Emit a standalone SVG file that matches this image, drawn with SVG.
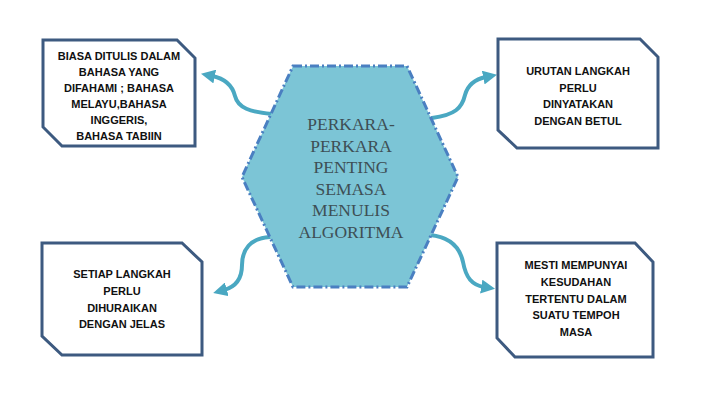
<svg xmlns="http://www.w3.org/2000/svg" width="720" height="405" viewBox="0 0 720 405">
<defs>
<style>
.box{fill:#ffffff;stroke:#3d5a80;stroke-width:3;stroke-linejoin:miter}
.bt{font-family:"Liberation Sans",Arial,sans-serif;font-size:11px;font-weight:bold;fill:#111111;text-anchor:middle}
.hex{fill:#7cc5d6;stroke:#4a7fc1;stroke-width:3;stroke-dasharray:9 3 2 3}
.ht{font-family:"Liberation Serif","Times New Roman",serif;font-size:17.5px;fill:#3e4f55;text-anchor:middle}
.con{fill:none;stroke:#4aa8c2;stroke-width:4;stroke-linecap:round}
</style>
<marker id="ah" viewBox="0 0 10 10" refX="2" refY="5" markerWidth="14" markerHeight="14" markerUnits="userSpaceOnUse" orient="auto">
<path d="M0,0 L10,5 L0,10 Z" fill="#4aa8c2"/>
</marker>
</defs>
<rect width="720" height="405" fill="#ffffff"/>
<g id="connectors">
<path class="con" d="M272,114 C250,112 238,108 235,96 C232,84 222,78 212,76" marker-end="url(#ah)"/>
<path class="con" d="M432,118 C455,115 462,108 465,95 C468,84 476,79 486,77" marker-end="url(#ah)"/>
<path class="con" d="M270,237 C250,238 242,250 242,265 C242,280 235,287 224,290" marker-end="url(#ah)"/>
<path class="con" d="M430,235 C450,237 460,248 463,262 C466,278 472,285 484,287" marker-end="url(#ah)"/>
</g>
<g id="center">
<polygon class="hex" points="293,66 407,66 458,177 407,287 293,287 242,177"/>
<text class="ht" x="351" y="130">PERKARA-</text>
<text class="ht" x="351" y="151.5">PERKARA</text>
<text class="ht" x="351" y="173">PENTING</text>
<text class="ht" x="351" y="194.5">SEMASA</text>
<text class="ht" x="351" y="216">MENULIS</text>
<text class="ht" x="351" y="237.5">ALGORITMA</text>
</g>
<g id="box-top-left">
<polygon class="box" points="43,40 177,40 195,58 195,146 62,146 43,127"/>
<text class="bt" x="119" y="59.5">BIASA DITULIS DALAM</text>
<text class="bt" x="119" y="75.5">BAHASA YANG</text>
<text class="bt" x="119" y="91.5">DIFAHAMI ; BAHASA</text>
<text class="bt" x="119" y="107.5">MELAYU,BAHASA</text>
<text class="bt" x="119" y="123.5">INGGERIS,</text>
<text class="bt" x="119" y="139.5">BAHASA TABIIN</text>
</g>
<g id="box-top-right">
<polygon class="box" points="498,39 640,39 658,57 658,148 517,148 498,130"/>
<text class="bt" x="578" y="75">URUTAN LANGKAH</text>
<text class="bt" x="578" y="91.5">PERLU</text>
<text class="bt" x="578" y="108">DINYATAKAN</text>
<text class="bt" x="578" y="124.5">DENGAN BETUL</text>
</g>
<g id="box-bottom-left">
<polygon class="box" points="42,243 182,243 202,262 202,355 62,355 42,336"/>
<text class="bt" x="122" y="278.3">SETIAP LANGKAH</text>
<text class="bt" x="122" y="295">PERLU</text>
<text class="bt" x="122" y="311.7">DIHURAIKAN</text>
<text class="bt" x="122" y="328.3">DENGAN JELAS</text>
</g>
<g id="box-bottom-right">
<polygon class="box" points="497,243 635,243 653,262 653,357 515,357 497,338"/>
<text class="bt" x="576" y="269.3">MESTI MEMPUNYAI</text>
<text class="bt" x="576" y="286">KESUDAHAN</text>
<text class="bt" x="576" y="302.7">TERTENTU DALAM</text>
<text class="bt" x="576" y="319.3">SUATU TEMPOH</text>
<text class="bt" x="576" y="336">MASA</text>
</g>
</svg>
